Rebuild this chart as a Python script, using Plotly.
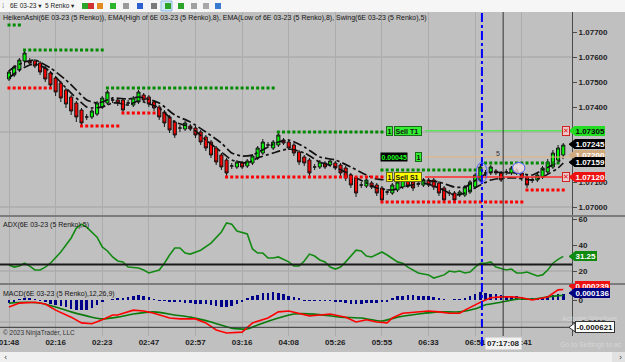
import plotly.graph_objects as go
from plotly.subplots import make_subplots

# ---------------- DATA ----------------
ha_open = [1.07512,1.07528,1.07548,1.07584,1.07584,1.07584,1.07576,1.07556,1.07536,1.07516,
           1.07496,1.07468,1.07440,1.07416,1.07388,1.07360,1.07360,1.07372,1.07400,1.07416,
           1.07428,1.07428,1.07428,1.07416,1.07408,1.07420,1.07448,1.07440,1.07420,1.07400,
           1.07380,1.07360,1.07340,1.07316,1.07312,1.07324,1.07316,1.07300,1.07280,1.07260,
           1.07236,1.07208,1.07188,1.07164,1.07160,1.07176,1.07164,1.07176,1.07196,1.07216,
           1.07248,1.07236,1.07248,1.07268,1.07260,1.07248,1.07220,1.07200,1.07188,1.07160,
           1.07160,1.07176,1.07168,1.07176,1.07168,1.07156,1.07128,1.07116,1.07088,1.07084,
           1.07096,1.07088,1.07076,1.07060,1.07056,1.07068,1.07080,1.07104,1.07100,1.07092,
           1.07088,1.07108,1.07108,1.07096,1.07076,1.07056,1.07056,1.07048,1.07048,1.07060,
           1.07080,1.07108,1.07136,1.07136,1.07144,1.07136,1.07140,1.07136,1.07148,1.07136,
           1.07120,1.07108,1.07108,1.07120,1.07140,1.07160,1.07188,1.07208]
ha_close = [1.07540,1.07560,1.07588,1.07616,1.07576,1.07564,1.07540,1.07512,1.07488,1.07460,
            1.07436,1.07412,1.07384,1.07360,1.07336,1.07360,1.07384,1.07416,1.07436,1.07460,
            1.07428,1.07416,1.07388,1.07416,1.07436,1.07460,1.07428,1.07412,1.07396,1.07360,
            1.07336,1.07308,1.07288,1.07316,1.07336,1.07312,1.07288,1.07260,1.07236,1.07208,
            1.07180,1.07160,1.07136,1.07164,1.07180,1.07160,1.07184,1.07204,1.07236,1.07260,
            1.07248,1.07260,1.07288,1.07256,1.07236,1.07216,1.07180,1.07176,1.07136,1.07160,
            1.07180,1.07160,1.07184,1.07156,1.07136,1.07116,1.07088,1.07056,1.07088,1.07108,
            1.07080,1.07056,1.07028,1.07060,1.07088,1.07100,1.07108,1.07084,1.07076,1.07092,
            1.07108,1.07088,1.07080,1.07056,1.07028,1.07056,1.07028,1.07060,1.07080,1.07100,
            1.07128,1.07160,1.07136,1.07160,1.07136,1.07108,1.07140,1.07156,1.07136,1.07116,
            1.07088,1.07108,1.07128,1.07156,1.07180,1.07216,1.07236,1.07248]
ha_high = [1.07548,1.07568,1.07596,1.07628,1.07596,1.07592,1.07584,1.07564,1.07544,1.07524,
           1.07504,1.07476,1.07448,1.07424,1.07396,1.07372,1.07392,1.07424,1.07444,1.07468,
           1.07440,1.07436,1.07436,1.07428,1.07444,1.07468,1.07456,1.07448,1.07428,1.07408,
           1.07388,1.07368,1.07348,1.07328,1.07344,1.07332,1.07324,1.07308,1.07288,1.07268,
           1.07244,1.07216,1.07196,1.07176,1.07188,1.07184,1.07192,1.07212,1.07244,1.07272,
           1.07260,1.07268,1.07300,1.07276,1.07268,1.07256,1.07228,1.07208,1.07196,1.07172,
           1.07188,1.07184,1.07192,1.07184,1.07176,1.07164,1.07136,1.07124,1.07100,1.07116,
           1.07104,1.07096,1.07084,1.07072,1.07096,1.07108,1.07116,1.07112,1.07108,1.07104,
           1.07116,1.07116,1.07116,1.07104,1.07084,1.07068,1.07064,1.07068,1.07088,1.07108,
           1.07136,1.07172,1.07148,1.07168,1.07152,1.07144,1.07152,1.07164,1.07156,1.07144,
           1.07128,1.07120,1.07136,1.07164,1.07192,1.07228,1.07248,1.07256]
ha_low = [1.07504,1.07520,1.07540,1.07564,1.07568,1.07556,1.07528,1.07500,1.07472,1.07444,
          1.07420,1.07396,1.07368,1.07340,1.07324,1.07348,1.07352,1.07364,1.07392,1.07408,
          1.07416,1.07404,1.07376,1.07404,1.07400,1.07412,1.07420,1.07400,1.07384,1.07348,
          1.07320,1.07296,1.07276,1.07300,1.07304,1.07304,1.07276,1.07248,1.07224,1.07196,
          1.07168,1.07148,1.07120,1.07152,1.07152,1.07152,1.07156,1.07168,1.07188,1.07208,
          1.07236,1.07228,1.07240,1.07248,1.07228,1.07204,1.07168,1.07164,1.07124,1.07148,
          1.07152,1.07152,1.07160,1.07148,1.07124,1.07104,1.07076,1.07040,1.07076,1.07076,
          1.07072,1.07044,1.07016,1.07048,1.07048,1.07060,1.07072,1.07076,1.07064,1.07080,
          1.07080,1.07080,1.07068,1.07044,1.07016,1.07044,1.07016,1.07040,1.07040,1.07052,
          1.07072,1.07100,1.07124,1.07128,1.07128,1.07100,1.07128,1.07128,1.07128,1.07104,
          1.07076,1.07096,1.07100,1.07112,1.07132,1.07152,1.07180,1.07200]
bars = list(range(len(ha_open)))

ema_high_bar = [0,1,3,5,8,11,13,15,17,18,20,23,25,29,32,35,38,41,43,45,47,50,52,54,57,60,63,66,
                69,71,74,76,80,83,86,88,91,93,96,98,101,103,106,107]
ema_high = [1.07544,1.07560,1.07580,1.07588,1.07556,1.07508,1.07468,1.07428,1.07416,1.07420,
            1.07436,1.07432,1.07440,1.07416,1.07368,1.07340,1.07300,1.07256,1.07216,1.07204,
            1.07208,1.07240,1.07260,1.07268,1.07240,1.07200,1.07188,1.07160,1.07128,1.07112,
            1.07108,1.07116,1.07108,1.07100,1.07080,1.07080,1.07120,1.07140,1.07136,1.07136,
            1.07128,1.07148,1.07180,1.07196]
ema_low_bar = [0,2,4,5,7,9,11,13,15,16,18,20,21,23,25,29,32,35,38,41,43,46,48,51,54,57,60,63,
               66,69,71,74,76,80,83,86,88,91,93,96,98,101,103,106,107]
ema_low = [1.07516,1.07548,1.07568,1.07572,1.07556,1.07520,1.07476,1.07436,1.07400,1.07396,
           1.07400,1.07416,1.07416,1.07408,1.07424,1.07396,1.07340,1.07320,1.07268,1.07220,
           1.07188,1.07176,1.07196,1.07216,1.07232,1.07216,1.07180,1.07160,1.07128,1.07096,
           1.07076,1.07068,1.07080,1.07096,1.07076,1.07048,1.07056,1.07088,1.07108,1.07116,
           1.07116,1.07108,1.07120,1.07156,1.07176]

swing_high_price = [1.07728, 1.07628, 1.07476, 1.07300, 1.07148, 1.07176]
swing_high_start = [0, 3, 19, 52, 72, 92]
swing_high_end = [2, 18, 51, 72, 91, 106]
swing_low_price = [1.07476, 1.07324, 1.07376, 1.07120, 1.07020, 1.07068]
swing_low_start = [0, 14, 22, 42, 72, 100]
swing_low_end = [8, 21, 28, 72, 99, 107]

adx_bar = [0,1,2,3,4,5,6,7,8,10,12,13,14,15,17,18,19,20,21,22,23,25,26,27,29,30,31,32,33,34,35,
           37,39,41,42,43,44,46,47,48,49,50,51,52,54,55,56,57,58,59,60,61,62,63,64,65,67,68,69,
           70,72,73,75,76,77,79,81,82,84,85,86,87,88,89,90,91,92,93,94,96,97,98,99,100,101,102,
           103,104,105,106,107]
adx_val = [24.6,23,23.8,26,23.8,20.8,20.8,23,26,34.6,45.4,53,56,53.8,46,38.5,35.4,30.8,27.7,27,
           23,22.3,20.8,18.5,20.8,26,32.3,37.7,37.7,33.8,33,36,41.5,50,57,56,50.8,48.5,37,33.8,
           33.8,30,30,30.8,27,23.8,23.8,27.7,33,31.5,28.5,27,23,21.5,23,27,36,35.4,31.5,30.8,
           34.6,32.3,27,26,23,18.5,17,14.6,17,20,19.2,20,18.5,19.2,23,26,26,27,23,20.8,21.5,
           18.5,18.5,19.2,17.7,16.2,17,20.8,26,29,31.25]

macd_bar = [0,2,5,7,9,12,14,16,18,20,21,24,26,28,31,33,36,38,40,42,45,47,50,52,54,56,58,60,62,
            65,67,69,71,73,74,76,79,81,83,85,87,88,90,91,93,95,97,99,101,104,106,107]
macd_val = [-0.00016,-0.00007,-0.00005,-0.00009,-0.00023,-0.00039,-0.00052,-0.00054,-0.00045,
            -0.00034,-0.00034,-0.00023,-0.00025,-0.00030,-0.00041,-0.00043,-0.00043,-0.00052,
            -0.00068,-0.00075,-0.00073,-0.00052,-0.00041,-0.00027,-0.00025,-0.00030,-0.00036,
            -0.00034,-0.00032,-0.00039,-0.00050,-0.00045,-0.00050,-0.00052,-0.00041,-0.00030,
            -0.00027,-0.00025,-0.00027,-0.00030,-0.00030,-0.00023,-0.00011,-0.00005,0.00005,
            0.00007,0.00007,0.00005,0.0,0.00007,0.00023,0.000239]
avg_bar = [0,3,6,9,12,16,18,21,24,28,32,35,39,43,46,48,52,55,59,64,68,72,75,79,83,87,90,92,95,
           98,101,104,106,107]
avg_val = [-0.00007,-0.00005,-0.00007,-0.00016,-0.00027,-0.00039,-0.00043,-0.00039,-0.00032,
           -0.00027,-0.00034,-0.00039,-0.00050,-0.00064,-0.00066,-0.00057,-0.00041,-0.00032,
           -0.00032,-0.00039,-0.00041,-0.00048,-0.00039,-0.00032,-0.00027,-0.00027,-0.00020,
           -0.00011,-0.00005,0.00002,0.00002,0.00007,0.00010,0.000103]
diff_val = [-0.00006,-0.00004,0.00002,0.00004,0.00003,0.00001,-0.00002,-0.00005,-0.00008,-0.00011,
            -0.00014,-0.00017,-0.00020,-0.00022,-0.00023,-0.00022,-0.00018,-0.00012,-0.00005,0.0,
            0.00002,0.00003,0.00005,0.00007,0.00010,0.00011,0.00009,0.00006,0.00002,-0.00001,
            -0.00002,-0.00004,-0.00005,-0.00005,-0.00006,-0.00007,-0.00008,-0.00009,-0.00010,-0.00012,
            -0.00014,-0.00016,-0.00015,-0.00013,-0.00009,-0.00004,0.00003,0.00008,0.00012,0.00015,
            0.00017,0.00018,0.00017,0.00014,0.00010,0.00006,0.00003,-0.00001,-0.00001,-0.00002,
            -0.00002,-0.00001,-0.00002,-0.00003,-0.00004,-0.00006,-0.00008,-0.00009,-0.00008,-0.00007,
            -0.00006,-0.00006,-0.00005,-0.00003,0.00004,0.00008,0.00010,0.00011,0.00011,0.00010,
            0.00010,0.00008,0.00006,0.00003,0.00001,0.0,0.00001,0.00002,0.00004,0.00008,
            0.00013,0.00018,0.00016,0.00014,0.00013,0.00012,0.00010,0.00010,0.00008,0.00006,
            0.00005,0.00004,0.00005,0.00007,0.00010,0.00012,0.00013,0.000136]

time_tick_bar = [0, 9, 18, 27, 36, 45, 54, 63, 72, 81, 90, 99]
time_tick_label = ["01:48", "02:16", "02:23", "02:47", "02:57", "03:16", "04:08", "05:26",
                   "05:55", "06:33", "06:51", "07:41"]
price_ticks = [1.07000, 1.07100, 1.07200, 1.07300, 1.07400, 1.07500, 1.07600, 1.07700]
price_tick_text = ["1.07000", "1.07100", "", "", "1.07400", "1.07500", "1.07600", "1.07700"]
price_grid = [1.07000, 1.07300, 1.07600]
adx_ticks = [20, 40, 60]
macd_ticks = [0, -0.0005]
macd_tick_text = ["0", "-0.0005"]

target_price = 1.07305
stop_price = 1.07120
entry_price = 1.07200
last_price = 1.07245
ema_last = 1.07159
signal_bar = 91
cursor_bar = 95.4
cursor_macd = -0.000621
cursor_time = "07:17:08"

# ---------------- FIGURE ----------------
W, H = 625, 362
L, R, T, B = 0, 53, 12, 26
PW, PH = W - L - R, H - T - B


def px_x(px):
    return px / PW


def px_y(py):
    return (H - B - py) / PH


fig = make_subplots(rows=3, cols=1, shared_xaxes=True, vertical_spacing=0,
                    row_heights=[204, 68, 52])

fig.add_trace(go.Candlestick(
    x=bars, open=ha_open, high=ha_high, low=ha_low, close=ha_close,
    increasing=dict(fillcolor="#00ff00", line=dict(color="#141414", width=1)),
    decreasing=dict(fillcolor="#ff0000", line=dict(color="#141414", width=1)),
    whiskerwidth=0, hoverinfo="skip", showlegend=False), row=1, col=1)

for xs, ys in ((ema_high_bar, ema_high), (ema_low_bar, ema_low)):
    fig.add_trace(go.Scatter(x=xs, y=ys, mode="lines",
                             line=dict(color="#111111", width=1.7, dash="dashdot",
                                       shape="spline", smoothing=0.6),
                             hoverinfo="skip", showlegend=False), row=1, col=1)

for prices, starts, ends, col in ((swing_high_price, swing_high_start, swing_high_end, "#008a00"),
                                  (swing_low_price, swing_low_start, swing_low_end, "#ff0000")):
    for p, s, e in zip(prices, starts, ends):
        xs = list(range(s, e + 1))
        fig.add_trace(go.Scatter(x=xs, y=[p] * len(xs), mode="markers",
                                 marker=dict(symbol="square", size=3, color=col,
                                             line=dict(width=0)),
                                 hoverinfo="skip", showlegend=False), row=1, col=1)

fig.add_trace(go.Scatter(x=adx_bar, y=adx_val, mode="lines",
                         line=dict(color="#138a13", width=1.6),
                         hoverinfo="skip", showlegend=False), row=2, col=1)

fig.add_trace(go.Bar(x=bars, y=diff_val, width=0.5, marker=dict(color="#000088", line=dict(width=0)),
                     hoverinfo="skip", showlegend=False), row=3, col=1)
fig.add_trace(go.Scatter(x=avg_bar, y=avg_val, mode="lines",
                         line=dict(color="#0a7a0a", width=1.6, shape="spline", smoothing=0.5),
                         hoverinfo="skip", showlegend=False), row=3, col=1)
fig.add_trace(go.Scatter(x=macd_bar, y=macd_val, mode="lines",
                         line=dict(color="#ff0000", width=1.6),
                         hoverinfo="skip", showlegend=False), row=3, col=1)

XR = [(0 - 9) / 5.18, (PW - 9) / 5.18]
tickfont = dict(family="Liberation Sans, Arial", size=8, color="#1e1e1e", weight="bold")
for i in (1, 2, 3):
    fig.update_xaxes(row=i, col=1, range=XR, tickvals=time_tick_bar, ticktext=time_tick_label,
                     showgrid=True, gridcolor="#acacac", gridwidth=1, zeroline=False,
                     showticklabels=(i == 3), ticks="", tickfont=tickfont,
                     ticklabeloverflow="allow",
                     rangeslider=dict(visible=False), fixedrange=True)

yax = dict(side="right", showline=True, linecolor="#4a4a4a", linewidth=1, ticks="outside",
           ticklen=4, tickcolor="#4a4a4a", showgrid=False, zeroline=False, tickfont=tickfont)
fig.update_yaxes(row=1, col=1, range=[1.07828 - 0.00004 * 216, 1.07828 - 0.00004 * 12],
                 tickvals=price_ticks, ticktext=price_tick_text, **yax)
fig.update_yaxes(row=2, col=1, range=[20 - 13 * 20 / 26, 20 + 55 * 20 / 26],
                 tickvals=adx_ticks, **yax)
fig.update_yaxes(row=3, col=1, range=[-36 * 0.0005 / 22, 16 * 0.0005 / 22],
                 tickvals=macd_ticks, ticktext=macd_tick_text, **yax)

shapes = []
# grid lines
for p in price_grid:
    shapes.append(dict(type="line", xref="paper", yref="y", x0=0, x1=1, y0=p, y1=p,
                       line=dict(color="#a2a2a2", width=1), layer="below"))
shapes.append(dict(type="line", xref="paper", yref="y2", x0=0, x1=1, y0=20, y1=20,
                   line=dict(color="#a2a2a2", width=1), layer="below"))
shapes.append(dict(type="line", xref="paper", yref="y3", x0=0, x1=1, y0=-0.0005, y1=-0.0005,
                   line=dict(color="#a2a2a2", width=1), layer="below"))
# ADX 25 line
shapes.append(dict(type="line", xref="paper", yref="y2", x0=0, x1=1, y0=25, y1=25,
                   line=dict(color="#1a1a1a", width=2.2)))
# panel separators
for py in (216, 284):
    shapes.append(dict(type="line", xref="paper", yref="paper", x0=0, x1=W / PW,
                       y0=px_y(py), y1=px_y(py), line=dict(color="#7c7c7c", width=2)))
# target / stop / entry lines
shapes.append(dict(type="line", xref="paper", yref="y", x0=px_x(425), x1=px_x(562),
                   y0=target_price, y1=target_price, line=dict(color="#5ee35e", width=1.6)))
shapes.append(dict(type="line", xref="paper", yref="y", x0=px_x(425), x1=px_x(562),
                   y0=stop_price, y1=stop_price, line=dict(color="#ff2a2a", width=1.3)))
shapes.append(dict(type="line", xref="paper", yref="y", x0=px_x(425), x1=1,
                   y0=entry_price, y1=entry_price, line=dict(color="#e6b47a", width=1)))
# signal and cursor verticals
shapes.append(dict(type="line", xref="x", yref="paper", x0=signal_bar + 0.3, x1=signal_bar + 0.3,
                   y0=px_y(346), y1=1, line=dict(color="#0000ff", width=2, dash="dashdot")))
shapes.append(dict(type="line", xref="x", yref="paper", x0=cursor_bar, x1=cursor_bar,
                   y0=0, y1=1, line=dict(color="#333333", width=1)))
shapes.append(dict(type="line", xref="paper", yref="y3", x0=0, x1=1, y0=cursor_macd,
                   y1=cursor_macd, line=dict(color="#333333", width=1)))
# ellipses
shapes.append(dict(type="circle", xref="x", yref="y", x0=90.2, x1=92.3, y0=1.07098, y1=1.07178,
                   line=dict(color="#4a5cff", width=1)))
shapes.append(dict(type="circle", xref="x", yref="y", x0=97.2, x1=99.6, y0=1.07134, y1=1.07178,
                   fillcolor="rgba(240,222,222,0.8)", line=dict(color="#4a5cff", width=1)))
# toolbar and bottom strip
shapes.append(dict(type="rect", xref="paper", yref="paper", x0=-0.01, x1=W / PW + 0.01,
                   y0=1, y1=px_y(-2), fillcolor="#f6f6f6", line=dict(width=0)))
shapes.append(dict(type="rect", xref="paper", yref="paper", x0=-0.01, x1=W / PW + 0.01,
                   y0=px_y(352), y1=px_y(364), fillcolor="#f0f0f0", line=dict(width=0)))
shapes.append(dict(type="rect", xref="paper", yref="paper", x0=px_x(612), x1=px_x(625),
                   y0=px_y(352), y1=px_y(362), fillcolor="#e2e2e2", line=dict(width=0)))
# toolbar icons
icons = [(82, "#2aa52a"), (88, "#d03030"), (97, "#e08a20"), (110, "#2bb52b"), (123, "#9a9a9a"),
         (137, "#3060d0"), (151, "#7a7a7a"), (165, "#2aa52a"), (178, "#2aa52a"), (191, "#a0a0a0"),
         (203, "#a8a8a8"), (215, "#3a7ad0")]
shapes.append(dict(type="rect", xref="paper", yref="paper", x0=px_x(161), x1=px_x(172),
                   y0=px_y(11), y1=px_y(1), fillcolor="#cfe6f7", line=dict(color="#8fbbe0", width=1)))
for ix, c in icons:
    shapes.append(dict(type="rect", xref="paper", yref="paper", x0=px_x(ix), x1=px_x(ix + 6),
                       y0=px_y(9), y1=px_y(3), fillcolor=c, line=dict(width=0)))


def axis_tag(text, yref, yval, bg, fg, upp, yshift=0, border=None):
    # left-pointing arrow + box on the right axis
    h = 4.5 * upp
    yc = yval + yshift * upp
    shapes.append(dict(type="path", xref="paper", yref=yref,
                       path=f"M {px_x(569)},{yc} L {px_x(575)},{yc + h} L {px_x(575)},{yc - h} Z",
                       fillcolor=bg, line=dict(color=border or bg, width=1)))
    fig.add_annotation(x=px_x(575), xref="paper", xanchor="left", y=yc, yref=yref,
                       yanchor="middle", text=text, showarrow=False,
                       font=dict(family="Liberation Sans, Arial", size=8, color=fg, weight="bold"),
                       bgcolor=bg, bordercolor=border or bg, borderwidth=1 if border else 0,
                       borderpad=0.5)


PU, AU, MU = 0.00004, 20 / 26, 0.0005 / 22
axis_tag(f"{target_price:.5f}", "y", target_price, "#22dd22", "#0a0a0a", PU)
axis_tag(f"{last_price:.5f}", "y", last_price, "#000000", "#ffffff", PU, yshift=1.5)
axis_tag(f"{entry_price:.5f}", "y", entry_price, "#d2aa80", "#ffffff", PU, yshift=2)
axis_tag(f"{ema_last:.5f}", "y", ema_last, "#000000", "#ffffff", PU, yshift=5)
axis_tag(f"{stop_price:.5f}", "y", stop_price, "#ee1111", "#ffffff", PU)
axis_tag(f"{adx_val[-1]:.2f}", "y2", adx_val[-1], "#0f8a0f", "#ffffff", AU)
axis_tag(f"{macd_val[-1]:.6f}", "y3", macd_val[-1], "#ee1111", "#ffffff", MU, yshift=3.5)
axis_tag(f"{diff_val[-1]:.6f}", "y3", diff_val[-1], "#000080", "#ffffff", MU, yshift=1)
axis_tag(f"{cursor_macd:.6f}", "y3", cursor_macd, "#ffffff", "#111111", MU, border="#333333")

txt = dict(family="Liberation Sans, Arial", size=7, color="#151515")


def note(text, x, y, xref="paper", yref="paper", xanchor="left", font=None, **kw):
    fig.add_annotation(text=text, x=x, y=y, xref=xref, yref=yref, xanchor=xanchor,
                       yanchor="middle", showarrow=False, font=font or txt, **kw)


note("HeikenAshi(6E 03-23 (5 Renko)), EMA(High of 6E 03-23 (5 Renko),8), "
     "EMA(Low of 6E 03-23 (5 Renko),8), Swing(6E 03-23 (5 Renko),5)", px_x(1), px_y(18))
note("ADX(6E 03-23 (5 Renko),5)", px_x(1), px_y(225))
note("MACD(6E 03-23 (5 Renko),12,26,9)", px_x(1), px_y(294))
note("© 2023 NinjaTrader, LLC", px_x(1), px_y(333),
     font=dict(family="Liberation Sans, Arial", size=6.5, color="#333333"))

# order labels
bold7 = dict(family="Liberation Sans, Arial", size=7, color="#111111", weight="bold")
note("1", px_x(386), target_price, yref="y", font=bold7, bgcolor="#33ee33",
     bordercolor="#1a6a1a", borderwidth=1, borderpad=0.5)
note("Sell T1 ", px_x(394), target_price, yref="y", font=bold7, bgcolor="#33ee33",
     bordercolor="#1a6a1a", borderwidth=1, borderpad=0.5)
note("1", px_x(386), stop_price, yref="y", font=bold7, bgcolor="#ffff00",
     bordercolor="#6a6a1a", borderwidth=1, borderpad=0.5)
note("Sell S1 ", px_x(394), stop_price, yref="y", font=bold7, bgcolor="#ffff00",
     bordercolor="#6a6a1a", borderwidth=1, borderpad=0.5)
note(f"{last_price - entry_price:.5f}", px_x(380), entry_price, yref="y",
     font=dict(family="Liberation Sans, Arial", size=7, color="#22ff22", weight="bold"),
     bgcolor="#000000", borderpad=0.5)
note("1", px_x(415), entry_price, yref="y", font=bold7, bgcolor="#33ee33",
     bordercolor="#1a6a1a", borderwidth=1, borderpad=0.5)
for p in (target_price, stop_price):
    note("✕", px_x(566), p, yref="y", xanchor="center",
         font=dict(family="DejaVu Sans", size=7, color="#e01010"),
         bgcolor="#e9c9c9", bordercolor="#d02020", borderwidth=1, borderpad=0)
note("5", 94.4, 1.07216, xref="x", yref="y", xanchor="center",
     font=dict(family="Liberation Sans, Arial", size=7, color="#333333"))

# cursor time label
note(cursor_time, cursor_bar, px_y(343), xref="x", xanchor="center",
     font=dict(family="Liberation Sans, Arial", size=8, color="#1e1e1e", weight="bold"),
     bgcolor="#f2f2f2", borderpad=1)

# toolbar text
note("⁞", px_x(0), px_y(6), font=dict(family="DejaVu Sans", size=7, color="#777777"))
note("6E 03-23 ▾  5 Renko ▾", px_x(8), px_y(6),
     font=dict(family="Liberation Sans, DejaVu Sans", size=6.5, color="#222222"))
note("‹", px_x(2), px_y(357), font=dict(family="DejaVu Sans", size=8, color="#444444"))
note("›", px_x(617), px_y(357), font=dict(family="DejaVu Sans", size=8, color="#444444"))
note("Activate Windows", px_x(560), px_y(318),
     font=dict(family="Liberation Sans, Arial", size=7, color="rgba(235,235,235,0.5)"))
note("Go to Settings to ac", px_x(558), px_y(345),
     font=dict(family="Liberation Sans, Arial", size=7, color="rgba(235,235,235,0.5)"))

fig.update_layout(width=W, height=H, margin=dict(l=L, r=R, t=T, b=B),
                  paper_bgcolor="#c0c0c0", plot_bgcolor="#c0c0c0", showlegend=False,
                  bargap=0, boxgap=0.15, shapes=shapes,
                  font=dict(family="Liberation Sans, Arial", size=8, color="#222222"))

fig.write_html("out.html")
